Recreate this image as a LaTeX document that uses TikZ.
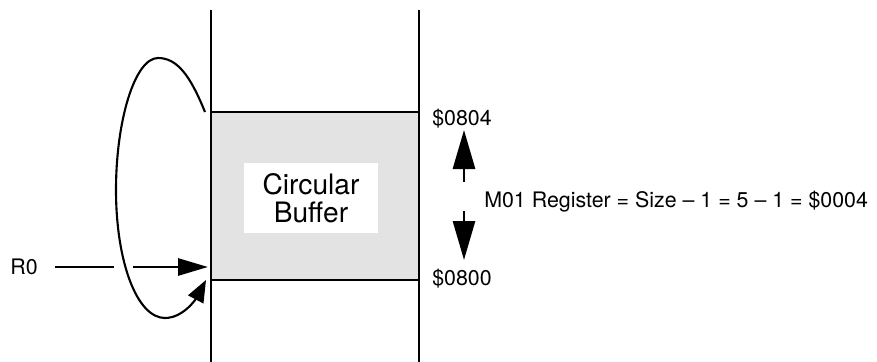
\documentclass[tikz,border=0pt]{standalone}
\usepackage{fontspec}
\setmainfont{TeX Gyre Heros}
\usetikzlibrary{arrows.meta,positioning,calc}

\begin{document}
\begin{tikzpicture}[
  x=0.025cm, y=-0.025cm,
  font=\fontsize{15.2}{18}\selectfont,
  every node/.style={align=center},
  rail/.style={line width=2pt},
  bigtip/.style={-{Triangle[length=39*0.025cm, width=22*0.025cm]}, line width=2pt},
  feed/.style={-{Triangle[length=30*0.025cm, width=17*0.025cm]}, line width=2pt},
  wrap/.style={-{Triangle[length=22*0.025cm, width=17*0.025cm]}, line width=1.5pt},
]
\useasboundingbox (0,0) rectangle (877,362);

% buffer region between the two rails
\node[draw, rail, fill=black!11, minimum width=208*0.025cm,
      minimum height=168*0.025cm, inner sep=0pt] (buf) at (315,196) {};
\node[fill=white, minimum width=134*0.025cm, minimum height=70*0.025cm,
      font=\fontsize{20}{23}\selectfont] (lbl) at (311,198) {Circular\\[-3pt]Buffer};

\coordinate (lt) at (211,10);  \coordinate (lb) at (211,362);
\coordinate (rt) at (419,10);  \coordinate (rb) at (419,362);
\draw[rail] (lt) -- (lb);
\draw[rail] (rt) -- (rb);

% addresses
\node[anchor=west, inner sep=0pt] (top) at (432,119) {\$0804};
\node[anchor=west, inner sep=0pt] (bot) at (432,279) {\$0800};
\node[anchor=west, inner sep=0pt] (mod) at (484,202)
  {M01 Register = Size -- 1 = 5 -- 1 = \$0004};

\coordinate (upS) at (464,182); \coordinate (upE) at (464,130);
\coordinate (dnS) at (464,211); \coordinate (dnE) at (464,260);
\draw[bigtip] (upS) -- (upE);
\draw[bigtip] (dnS) -- (dnE);

% pointer R0
\node[inner sep=0pt] (R0) at (24,267) {R0};
\coordinate (gapL) at (114,267);
\coordinate (gapR) at (133,267);
\coordinate (in) at (208,267);
\draw[line width=2pt, shorten <=17*0.025cm] (R0.east) -- (gapL);
\draw[feed] (gapR) -- (in);

% wrap-around
\coordinate (ws) at (205,112);
\coordinate (we) at (206,280);
\draw[wrap] (ws) .. controls (190,75) and (177,58) .. (158,58)
  .. controls (135,58) and (116,120) .. (116,190)
  .. controls (116,262) and (137,318) .. (165,318)
  .. controls (184,318) and (197,297) .. (we);

\end{tikzpicture}
\end{document}
